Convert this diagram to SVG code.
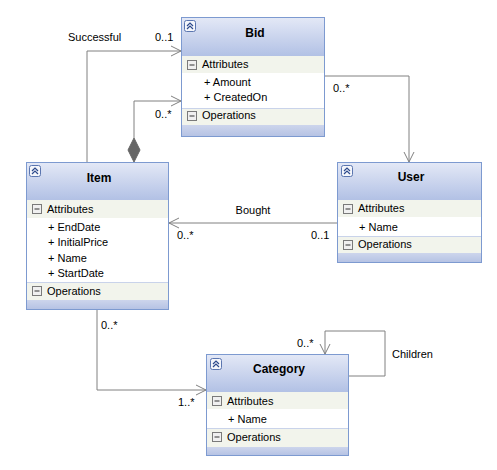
<svg xmlns="http://www.w3.org/2000/svg" width="497" height="470" viewBox="0 0 497 470">
<defs>
<linearGradient id="hdr" x1="0" y1="0" x2="0" y2="1">
<stop offset="0" stop-color="#e3e8f6"/>
<stop offset="1" stop-color="#b2c1e5"/>
</linearGradient>
<linearGradient id="ftr" x1="0" y1="0" x2="0" y2="1">
<stop offset="0" stop-color="#cdd5ec"/>
<stop offset="1" stop-color="#b6c3e4"/>
</linearGradient>
<marker id="open" markerWidth="12" markerHeight="12" refX="11" refY="6" orient="auto" markerUnits="userSpaceOnUse">
<path d="M1,1 L11,6 L1,11" fill="none" stroke="#808080" stroke-width="1"/>
</marker>
<g id="collapse">
<rect x="0.5" y="0.5" width="11" height="11" rx="2" fill="#f4f6fb" stroke="#5b76b0"/>
<path d="M3,6 L6,3 L9,6 M3,9 L6,6 L9,9" fill="none" stroke="#2d4a8c" stroke-width="1.2"/>
</g>
<g id="minus">
<rect x="0.5" y="0.5" width="9" height="9" fill="#f0f0f0" stroke="#7a7a7a"/>
<line x1="2.5" y1="5" x2="7.5" y2="5" stroke="#333" stroke-width="1"/>
</g>
</defs>
<style>
text{font-family:"Liberation Sans",Arial,sans-serif;font-size:11px;fill:#000}
.title{font-weight:bold;font-size:12px;text-anchor:middle}
.box{fill:#fff;stroke:#7d9ad0;stroke-width:1}
.sec{fill:#f2f4ec}
.sep{stroke:#c9d3ea;stroke-width:1}
.conn{fill:none;stroke:#808080;stroke-width:1}
</style>

<g id="connectors">
<polyline class="conn" points="87,162 87,51 181,51" marker-end="url(#open)"/>
<polyline class="conn" points="134,138 134,101 181,101" marker-end="url(#open)"/>
<path d="M134,138 L140,150 L134,162 L128,150 Z" fill="#666" stroke="#666"/>
<polyline class="conn" points="325,76 409,76 409,162" marker-end="url(#open)"/>
<polyline class="conn" points="337,223 169,223" marker-end="url(#open)"/>
<polyline class="conn" points="97,310 97,390 206,390" marker-end="url(#open)"/>
<polyline class="conn" points="349,376 385,376 385,331 325,331 325,354" marker-end="url(#open)"/>
<text x="68" y="41">Successful</text>
<text x="155" y="41">0..1</text>
<text x="155" y="118">0..*</text>
<text x="333" y="92">0..*</text>
<text x="253" y="214" text-anchor="middle">Bought</text>
<text x="177" y="239">0..*</text>
<text x="311" y="239">0..1</text>
<text x="101" y="329">0..*</text>
<text x="178" y="406">1..*</text>
<text x="297" y="347">0..*</text>
<text x="392" y="358">Children</text>
</g>

<g id="bid">
<rect class="box" x="181.5" y="17.5" width="143" height="119"/>
<rect x="182" y="18" width="142" height="38" fill="url(#hdr)"/>
<rect class="sec" x="182" y="56" width="142" height="17"/>
<rect class="sec" x="182" y="108" width="142" height="17"/>
<line class="sep" x1="182" y1="108.5" x2="324" y2="108.5"/>
<rect x="182" y="125" width="142" height="11" fill="url(#ftr)"/>
<use href="#collapse" x="184" y="20"/>
<text class="title" x="255" y="37">Bid</text>
<use href="#minus" x="187" y="60"/>
<text x="202" y="68">Attributes</text>
<text x="204" y="86">+ Amount</text>
<text x="204" y="101">+ CreatedOn</text>
<use href="#minus" x="187" y="111"/>
<text x="202" y="119">Operations</text>
</g>

<g id="item">
<rect class="box" x="26.5" y="162.5" width="142" height="147"/>
<rect x="27" y="163" width="141" height="37" fill="url(#hdr)"/>
<rect class="sec" x="27" y="200" width="141" height="18"/>
<rect class="sec" x="27" y="282" width="141" height="18"/>
<line class="sep" x1="27" y1="282.5" x2="168" y2="282.5"/>
<rect x="27" y="300" width="141" height="9" fill="url(#ftr)"/>
<use href="#collapse" x="29" y="165"/>
<text class="title" x="99" y="182">Item</text>
<use href="#minus" x="32" y="204"/>
<text x="47" y="213">Attributes</text>
<text x="48" y="231">+ EndDate</text>
<text x="48" y="246">+ InitialPrice</text>
<text x="48" y="262">+ Name</text>
<text x="48" y="277">+ StartDate</text>
<use href="#minus" x="32" y="286"/>
<text x="47" y="295">Operations</text>
</g>

<g id="user">
<rect class="box" x="337.5" y="162.5" width="144" height="100"/>
<rect x="338" y="163" width="143" height="37" fill="url(#hdr)"/>
<rect class="sec" x="338" y="200" width="143" height="17"/>
<rect class="sec" x="338" y="236" width="143" height="17"/>
<line class="sep" x1="338" y1="236.5" x2="481" y2="236.5"/>
<rect x="338" y="253" width="143" height="9" fill="url(#ftr)"/>
<use href="#collapse" x="341" y="165"/>
<text class="title" x="411" y="181">User</text>
<use href="#minus" x="343" y="204"/>
<text x="358" y="212">Attributes</text>
<text x="359" y="231">+ Name</text>
<use href="#minus" x="343" y="240"/>
<text x="358" y="248">Operations</text>
</g>

<g id="category">
<rect class="box" x="206.5" y="354.5" width="142" height="101"/>
<rect x="207" y="355" width="141" height="37" fill="url(#hdr)"/>
<rect class="sec" x="207" y="392" width="141" height="17"/>
<rect class="sec" x="207" y="428" width="141" height="19"/>
<line class="sep" x1="207" y1="428.5" x2="348" y2="428.5"/>
<rect x="207" y="447" width="141" height="8" fill="url(#ftr)"/>
<use href="#collapse" x="210" y="358"/>
<text class="title" x="279" y="373">Category</text>
<use href="#minus" x="212" y="396"/>
<text x="227" y="405">Attributes</text>
<text x="228" y="423">+ Name</text>
<use href="#minus" x="212" y="432"/>
<text x="227" y="441">Operations</text>
</g>
</svg>
